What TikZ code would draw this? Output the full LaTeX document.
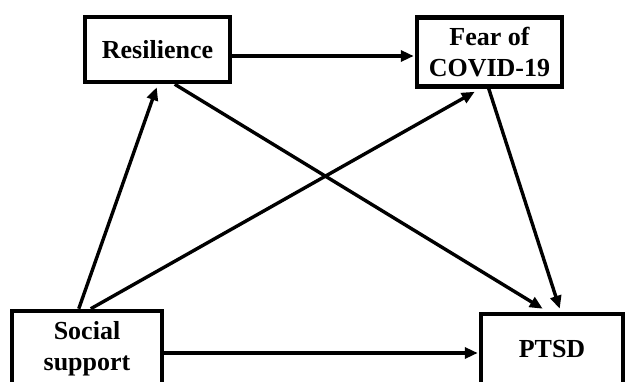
\documentclass[tikz,border=0pt]{standalone}
\usepackage{fontspec}
\setmainfont{Liberation Serif}
\usetikzlibrary{arrows.meta,calc}
\begin{document}
\begin{tikzpicture}[x=1pt,y=-1pt,
  box/.style={draw=black,line width=4.5pt,fill=white,inner sep=0pt,align=center,
    font=\fontsize{26}{30.5}\selectfont\bfseries},
  conn/.style={line width=3.4pt,-{Triangle[length=13pt,width=11pt]}}]
\clip (0,0) rectangle (627,382);
\fill[white] (0,0) rectangle (627,382);
\node[box,minimum width=145pt,minimum height=65pt] (res) at (157.5,49.5) {Resilience};
\node[box,minimum width=145pt,minimum height=69pt] (fear) at (489.5,52) {Fear of\\COVID-19};
\node[box,minimum width=150pt,minimum height=75pt] (soc) at (87,348.5) {Social\\support};
\node[box,minimum width=142pt,minimum height=71pt] (ptsd) at (552,349.5) {PTSD};
\draw[conn] ($(res.east)+(0,6.5)$) -- ($(fear.west)+(-1,4)$);
\draw[conn] ($(soc.east)+(0,4.5)$) -- ($(ptsd.west)+(-1,3.5)$);
\draw[conn] ($(soc.north west)+(69,0)$) -- ($(res.south west)+(74,3)$);
\draw[conn] ($(soc.north west)+(81,0)$) -- ($(fear.south west)+(60,3)$);
\draw[conn] ($(res.south west)+(92,0)$) -- ($(ptsd.north west)+(64,-3)$);
\draw[conn] ($(fear.south west)+(74,0)$) -- ($(ptsd.north west)+(81,-3)$);
\end{tikzpicture}
\end{document}
